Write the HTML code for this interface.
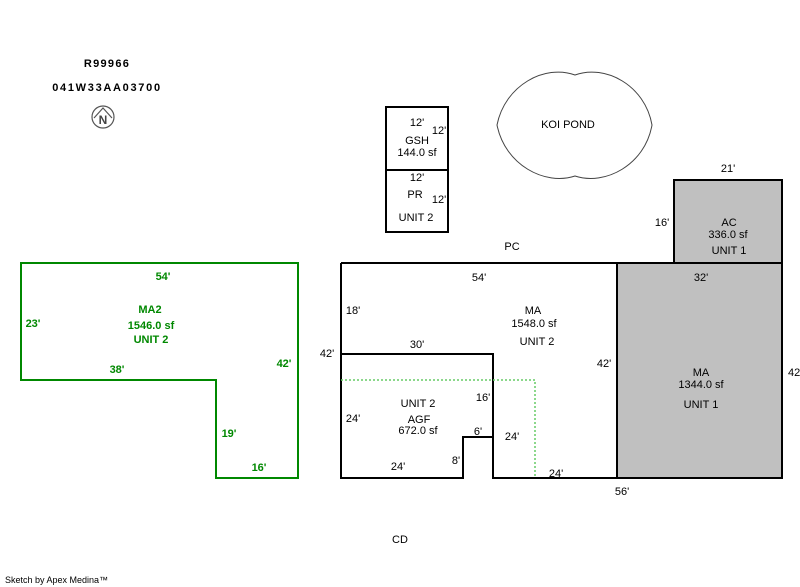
<!DOCTYPE html>
<html><head><meta charset="utf-8"><style>
html,body{margin:0;padding:0;background:#fff;}
svg{display:block;font-family:"Liberation Sans",Arial,sans-serif;font-size:11px;}
</style></head><body>
<svg width="800" height="587" viewBox="0 0 800 587" xmlns="http://www.w3.org/2000/svg">
<rect width="800" height="587" fill="#fff"/>
<!-- header -->
<text x="107" y="67" text-anchor="middle" font-weight="bold" font-size="11" letter-spacing="1.3">R99966</text>
<text x="107" y="91" text-anchor="middle" font-weight="bold" font-size="11" letter-spacing="1.7">041W33AA03700</text>
<circle cx="103" cy="117" r="11" fill="none" stroke="#555" stroke-width="1.2"/>
<path d="M94,118 L103,108 L112,118" fill="none" stroke="#555" stroke-width="1.2"/>
<text x="103" y="124" text-anchor="middle" font-weight="bold" font-size="12" fill="#444">N</text>

<!-- pond -->
<path d="M575,75 C545,64 505,85 497,125 C505,165 545,186 575,176 C605,186 645,165 652,125 C645,85 605,64 575,75 Z" fill="none" stroke="#444" stroke-width="1"/>
<text x="568" y="128" text-anchor="middle">KOI POND</text>

<!-- gray areas -->
<rect x="674" y="180" width="108" height="83" fill="#c0c0c0" stroke="#000" stroke-width="2"/>
<rect x="617" y="263" width="165" height="215" fill="#c0c0c0" stroke="#000" stroke-width="2"/>

<!-- GSH / PR -->
<rect x="386" y="107" width="62" height="63" fill="none" stroke="#000" stroke-width="2"/>
<rect x="386" y="170" width="62" height="62" fill="none" stroke="#000" stroke-width="2"/>
<text x="417" y="126" text-anchor="middle">12'</text>
<text x="439" y="134" text-anchor="middle">12'</text>
<text x="417" y="144" text-anchor="middle">GSH</text>
<text x="417" y="156" text-anchor="middle">144.0 sf</text>
<text x="417" y="181" text-anchor="middle">12'</text>
<text x="415" y="198" text-anchor="middle">PR</text>
<text x="439" y="203" text-anchor="middle">12'</text>
<text x="416" y="221" text-anchor="middle">UNIT 2</text>

<!-- main outline -->
<path d="M341,263 L617,263 M341,263 L341,478 L463,478 L463,437 L493,437 L493,354 L341,354 M493,437 L493,478 L617,478" fill="none" stroke="#000" stroke-width="2"/>
<path d="M341,380 L535,380 L535,478" fill="none" stroke="#6c6" stroke-width="1.5" stroke-dasharray="2,2"/>

<!-- MA2 -->
<path d="M21,263 L298,263 L298,478 L216,478 L216,380 L21,380 Z" fill="none" stroke="#080" stroke-width="2"/>
<g fill="#080" font-weight="bold">
<text x="163" y="280" text-anchor="middle">54'</text>
<text x="33" y="327" text-anchor="middle">23'</text>
<text x="150" y="313" text-anchor="middle">MA2</text>
<text x="151" y="329" text-anchor="middle">1546.0 sf</text>
<text x="151" y="343" text-anchor="middle">UNIT 2</text>
<text x="117" y="373" text-anchor="middle">38'</text>
<text x="284" y="367" text-anchor="middle">42'</text>
<text x="229" y="437" text-anchor="middle">19'</text>
<text x="259" y="471" text-anchor="middle">16'</text>
</g>

<!-- labels -->
<text x="512" y="250" text-anchor="middle">PC</text>
<text x="479" y="281" text-anchor="middle">54'</text>
<text x="353" y="314" text-anchor="middle">18'</text>
<text x="533" y="314" text-anchor="middle">MA</text>
<text x="534" y="327" text-anchor="middle">1548.0 sf</text>
<text x="537" y="345" text-anchor="middle">UNIT 2</text>
<text x="327" y="357" text-anchor="middle">42'</text>
<text x="417" y="348" text-anchor="middle">30'</text>
<text x="604" y="367" text-anchor="middle">42'</text>
<text x="418" y="407" text-anchor="middle">UNIT 2</text>
<text x="483" y="401" text-anchor="middle">16'</text>
<text x="353" y="422" text-anchor="middle">24'</text>
<text x="419" y="423" text-anchor="middle">AGF</text>
<text x="418" y="434" text-anchor="middle">672.0 sf</text>
<text x="478" y="435" text-anchor="middle">6'</text>
<text x="512" y="440" text-anchor="middle">24'</text>
<text x="456" y="464" text-anchor="middle">8'</text>
<text x="398" y="470" text-anchor="middle">24'</text>
<text x="556" y="477" text-anchor="middle">24'</text>
<text x="622" y="495" text-anchor="middle">56'</text>
<text x="728" y="172" text-anchor="middle">21'</text>
<text x="662" y="226" text-anchor="middle">16'</text>
<text x="729" y="226" text-anchor="middle">AC</text>
<text x="728" y="238" text-anchor="middle">336.0 sf</text>
<text x="729" y="254" text-anchor="middle">UNIT 1</text>
<text x="701" y="281" text-anchor="middle">32'</text>
<text x="701" y="376" text-anchor="middle">MA</text>
<text x="701" y="388" text-anchor="middle">1344.0 sf</text>
<text x="701" y="408" text-anchor="middle">UNIT 1</text>
<text x="788" y="376">42</text>
<text x="400" y="543" text-anchor="middle">CD</text>
<text x="5" y="583" font-size="9">Sketch by Apex Medina™</text>
</svg>
</body></html>
